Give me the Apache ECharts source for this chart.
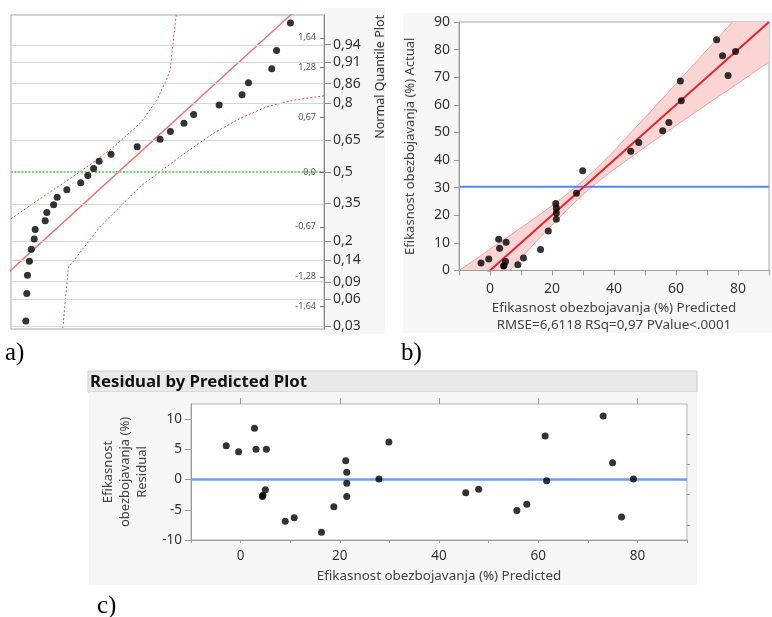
<!DOCTYPE html>
<html><head><meta charset="utf-8">
<script src="https://cdn.jsdelivr.net/npm/echarts@6/dist/echarts.min.js"></script>
<style>html,body{margin:0;padding:0;background:#fff}#c{width:772px;height:617px}</style>
</head><body><div id="c"></div>
<script>
// ---- data ----
const predicted = [-2.9,-0.4,2.8,3.1,5.2,5.0,4.5,4.4,9.0,10.8,16.3,18.8,21.2,21.4,21.4,21.4,27.9,29.9,45.4,48.0,55.7,57.7,61.4,61.7,73.1,75.0,76.8,79.2];
const actual    = [2.7,4.2,11.3,8.1,10.2,3.3,1.9,1.6,2.1,4.5,7.6,14.3,24.3,22.6,20.8,18.6,28.0,36.1,43.2,46.4,50.6,53.6,68.6,61.5,83.6,77.8,70.6,79.3];
const residual  = [5.6,4.6,8.5,5.0,5.0,-1.7,-2.6,-2.8,-6.9,-6.3,-8.7,-4.5,3.1,1.2,-0.6,-2.8,0.1,6.2,-2.2,-1.6,-5.1,-4.1,7.2,-0.2,10.5,2.8,-6.2,0.1];
// normal quantile positions (z) of ranked points in panel a
const quantileZ = [-1.819,-1.483,-1.262,-1.090,-0.945,-0.817,-0.702,-0.595,-0.495,-0.399,-0.307,-0.218,-0.130,-0.043,0.043,0.130,0.218,0.307,0.399,0.495,0.595,0.702,0.817,0.945,1.090,1.262,1.483,1.819];
const probLabels = ['0,03','0,06','0,09','0,14','0,2','0,35','0,5','0,65','0,8','0,86','0,91','0,94'];
const probTickZ  = [-1.881,-1.555,-1.341,-1.080,-0.842,-0.385,0,0.385,0.842,1.080,1.341,1.555];
const zLabels = ['-1,64','-1,28','-0,67','0,0','0,67','1,28','1,64'];
const zTicks  = [-1.64,-1.28,-0.67,0,0.67,1.28,1.64];
const qUpperV = [-3.05,3.98,18.4,27.7,37.0,42.2,45.3,46.3,47.2,48.2];
const qUpperZ = [-0.573,-0.382,0.004,0.268,0.594,0.878,1.142,1.244,1.569,1.918];
const qLowerV = [13.07,14.8,15.86,24.6,30.8,37.0,43.2,51.5,59.7,68.0,76.3,84.6,94.1];
const qLowerZ = [-1.906,-1.155,-1.114,-0.667,-0.423,-0.179,0.004,0.248,0.472,0.655,0.797,0.878,0.931];
const normMean = 30.3, normSd = 27.8;
const bandX     = [-10,-5,0,5,10,15,20,25,30,35,40,50,60,70,80,90];
const bandUpper = [0.0,3.8,7.7,11.6,15.5,19.4,23.5,27.8,32.5,37.7,43.4,55.4,67.6,79.9,92.2,104.6];
const bandLower = [-20.0,-13.8,-7.7,-1.6,4.5,10.6,16.5,22.2,27.5,32.3,36.6,44.7,52.5,60.2,67.8,75.5];
const meanActual = 30.3;
const xTicksLabelled = [0,20,40,60,80];

// ---- derived series data ----
const sortedActual = actual.slice().sort((a,b)=>a-b);
const qqData = sortedActual.map((v,i)=>[v, quantileZ[i]]);
const avpData = predicted.map((p,i)=>[p, actual[i]]);
const resData = predicted.map((p,i)=>[p, residual[i]]);
const zip = (a,b)=>a.map((v,i)=>[v,b[i]]);

const FONT = 'Noto Sans';
const chart = echarts.init(document.getElementById('c'), null, {renderer:'canvas'});
const lbl = (arr, vals) => (v) => { for (let i=0;i<vals.length;i++) if (Math.abs(vals[i]-v)<1e-6) return arr[i]; return ''; };
const axisGrey = '#9c9c9c';

function bandRender(params, api) {
  if (params.dataIndex !== 0) return null;
  const pts = [];
  for (let i=0;i<bandX.length;i++) pts.push(api.coord([bandX[i], bandUpper[i]]));
  for (let i=bandX.length-1;i>=0;i--) pts.push(api.coord([bandX[i], bandLower[i]]));
  const cs = params.coordSys;
  return {type:'polygon', shape:{points:pts}, style:{fill:'#fbd4d4'},
          clipPath:{type:'rect', shape:{x:cs.x, y:cs.y, width:cs.width, height:cs.height}}};
}

const option = {
  animation:false,
  textStyle:{fontFamily:FONT},
  graphic:[
    {type:'rect', z:-1, shape:{x:324,y:8,width:61,height:326}, style:{fill:'#f6f6f6'}},
    {type:'rect', z:-1, shape:{x:403,y:13,width:369,height:320}, style:{fill:'#f7f7f7'}},
    {type:'rect', z:-1, shape:{x:88,y:371,width:609,height:21}, style:{fill:'#e9e9e9', stroke:'#cdcdcd', lineWidth:1}},
    {type:'rect', z:-1, shape:{x:89,y:392,width:608,height:193}, style:{fill:'#f6f6f6'}},
    {type:'text', z:10, x:90, y:382, style:{text:'Residual by Predicted Plot', font:'bold 16.8px "Noto Sans"', fill:'#111', verticalAlign:'middle'}},
    {type:'text', z:10, x:380, y:15, rotation:Math.PI/2, style:{text:'Normal Quantile Plot', font:'12.5px "Noto Sans"', fill:'#333', align:'right', verticalAlign:'middle'}},
    {type:'text', x:5, y:353, style:{text:'a)', font:'25px "Liberation Serif"', fill:'#000', verticalAlign:'middle'}},
    {type:'text', x:401, y:353, style:{text:'b)', font:'25px "Liberation Serif"', fill:'#000', verticalAlign:'middle'}},
    {type:'text', x:97, y:606, style:{text:'c)', font:'25px "Liberation Serif"', fill:'#000', verticalAlign:'middle'}}
  ],
  grid:[
    {left:11, top:15, width:313, height:314, show:true, borderColor:'#a8a8a8', borderWidth:1, backgroundColor:'#fff'},
    {left:459, top:22, width:317, height:248.5, show:true, borderColor:'#a8a8a8', borderWidth:1, backgroundColor:'#fff'},
    {left:191, top:404, width:496, height:136, show:true, borderColor:'#b4b4b4', borderWidth:1, backgroundColor:'#fff'}
  ],
  xAxis:[
    {gridIndex:0, type:'value', min:-3.0, max:94, show:false},
    {gridIndex:1, type:'value', min:-10, max:90, interval:10, z:10,
     axisLine:{onZero:false, lineStyle:{color:axisGrey}}, axisTick:{length:5, lineStyle:{color:axisGrey}},
     splitLine:{show:false},
     axisLabel:{fontSize:14, color:'#333', margin:12, formatter:(v)=> xTicksLabelled.includes(v)? String(v):''},
     name:'Efikasnost obezbojavanja (%) Predicted\nRMSE=6,6118 RSq=0,97 PValue<.0001', nameLocation:'middle', nameGap:29,
     nameTextStyle:{fontSize:13.4, color:'#444', lineHeight:17}},
    {gridIndex:2, type:'value', min:-10, max:90, interval:10, z:10,
     axisLine:{onZero:false, lineStyle:{color:axisGrey}}, axisTick:{length:3, lineStyle:{color:axisGrey}},
     splitLine:{show:false},
     axisLabel:{fontSize:13.5, color:'#333', margin:9, formatter:(v)=> xTicksLabelled.includes(v)? String(v):''},
     name:'Efikasnost obezbojavanja (%) Predicted', nameLocation:'middle', nameGap:30,
     nameTextStyle:{fontSize:13.4, color:'#444'}},
    {gridIndex:2, type:'value', min:-10, max:90, z:10, axisLine:{show:false, onZero:false},
     axisTick:{length:6, customValues:xTicksLabelled, lineStyle:{color:axisGrey}},
     axisLabel:{show:false}, splitLine:{show:false}}
  ],
  yAxis:[
    {gridIndex:0, type:'value', position:'right', min:-1.918, max:1.918, z:10,
     axisLine:{show:true, onZero:false, lineStyle:{color:'#8c8c8c'}},
     axisTick:{show:true, length:7, customValues:probTickZ, lineStyle:{color:'#8c8c8c'}},
     axisLabel:{customValues:probTickZ, formatter:lbl(probLabels, probTickZ), fontSize:14, color:'#333', margin:9},
     splitLine:{show:false}},
    {gridIndex:0, type:'value', position:'right', min:-1.918, max:1.918, z:10,
     axisLine:{show:false, onZero:false},
     axisTick:{show:true, inside:true, length:4, customValues:zTicks, lineStyle:{color:'#777'}},
     axisLabel:{inside:true, customValues:zTicks, formatter:lbl(zLabels, zTicks), fontSize:9, color:'#555', margin:8},
     splitLine:{show:false}},
    {gridIndex:1, type:'value', min:0, max:90, interval:10, z:10,
     axisLine:{show:true, onZero:false, lineStyle:{color:axisGrey}}, axisTick:{show:true, length:5, lineStyle:{color:axisGrey}},
     axisLabel:{fontSize:14, color:'#333', margin:9}, splitLine:{show:false},
     name:'Efikasnost obezbojavanja (%) Actual', nameLocation:'middle', nameGap:42,
     nameTextStyle:{fontSize:13, color:'#444'}},
    {gridIndex:2, type:'value', min:-10, max:12.5, z:10,
     axisLine:{show:true, onZero:false, lineStyle:{color:axisGrey}},
     axisTick:{show:true, length:6, customValues:[-10,-5,0,5,10], lineStyle:{color:axisGrey}},
     axisLabel:{customValues:[-10,-5,0,5,10], fontSize:13.5, color:'#333', margin:9}, splitLine:{show:false},
     name:'Efikasnost\nobezbojavanja (%)\nResidual', nameLocation:'middle', nameGap:40,
     nameTextStyle:{fontSize:13, color:'#444', lineHeight:17, align:'center'}},
    {gridIndex:2, type:'value', min:-10, max:12.5, z:10, axisLine:{show:false, onZero:false},
     axisTick:{show:true, length:3, customValues:[-7.5,-2.5,2.5,7.5], lineStyle:{color:axisGrey}},
     axisLabel:{show:false}, splitLine:{show:false}}
  ],
  series:[
    // panel a
    {type:'line', xAxisIndex:0, yAxisIndex:0, data:[], z:1, silent:true,
     markLine:{silent:true, symbol:'none', animation:false, label:{show:false},
       data: probTickZ.filter(z=>z!==0).map(z=>({yAxis:z, lineStyle:{color:'#d6d6d6', width:1, type:'solid'}}))
             .concat([{yAxis:0, lineStyle:{color:'#7fd07f', width:2, type:[2,1.5]}}])}},
    {type:'line', xAxisIndex:0, yAxisIndex:0, z:3, symbol:'none', silent:true,
     data:[[normMean-normSd*2.0,-2.0],[normMean+normSd*2.0,2.0]], lineStyle:{color:'#f07070', width:1.4}},
    {type:'line', xAxisIndex:0, yAxisIndex:0, z:3, symbol:'none', silent:true,
     data:zip(qUpperV,qUpperZ), lineStyle:{color:'#ee4a4a', width:1, type:[2,2]}},
    {type:'line', xAxisIndex:0, yAxisIndex:0, z:3, symbol:'none', silent:true,
     data:zip(qLowerV,qLowerZ), lineStyle:{color:'#ee4a4a', width:1, type:[2,2]}},
    {type:'scatter', xAxisIndex:0, yAxisIndex:0, z:5, symbolSize:7, itemStyle:{color:'#000'}, data:qqData},
    // panel b
    {type:'custom', xAxisIndex:1, yAxisIndex:2, z:1, silent:true, renderItem:bandRender, data:[[bandX[0], bandUpper[0]]]},
    {type:'line', xAxisIndex:1, yAxisIndex:2, z:2, symbol:'none', silent:true,
     data:zip(bandX,bandUpper), lineStyle:{color:'#f4a3a3', width:1}},
    {type:'line', xAxisIndex:1, yAxisIndex:2, z:2, symbol:'none', silent:true,
     data:zip(bandX,bandLower), lineStyle:{color:'#f4a3a3', width:1}},
    {type:'line', xAxisIndex:1, yAxisIndex:2, z:3, symbol:'none', silent:true,
     data:[[-10,meanActual],[90,meanActual]], lineStyle:{color:'#4f86f0', width:2}},
    {type:'line', xAxisIndex:1, yAxisIndex:2, z:3, symbol:'none', silent:true,
     data:[[-10,-10],[90,90]], lineStyle:{color:'#e8232b', width:2}},
    {type:'scatter', xAxisIndex:1, yAxisIndex:2, z:5, symbolSize:7, itemStyle:{color:'#000'}, data:avpData},
    // panel c
    {type:'line', xAxisIndex:2, yAxisIndex:3, z:3, symbol:'none', silent:true,
     data:[[-10,0],[90,0]], lineStyle:{color:'#6d9cf3', width:2.5}},
    {type:'scatter', xAxisIndex:2, yAxisIndex:3, z:5, symbolSize:7, itemStyle:{color:'#000'}, data:resData}
  ]
};
chart.setOption(option);
</script>
</body></html>
